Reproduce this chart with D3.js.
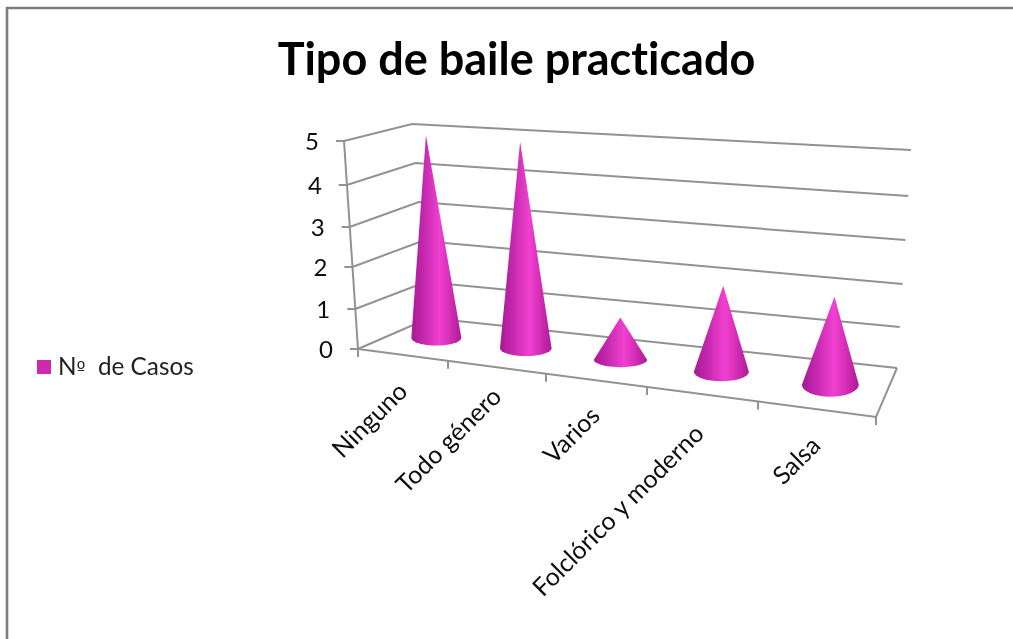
<!DOCTYPE html>
<html><head><meta charset="utf-8">
<script src="https://cdn.jsdelivr.net/npm/d3@7"></script>
<style>html,body{margin:0;padding:0;background:#fff}svg{display:block}text{font-family:Lato,Carlito,sans-serif;font-variant-ligatures:none}</style>
</head><body><div id="c"></div>
<script>
const title = "Tipo de baile practicado";
const seriesNamePrefix = "N";
const seriesOrdinal = "º";
const seriesNameSuffix = "  de Casos";
const categories = ["Ninguno","Todo género","Varios","Folclórico y moderno","Salsa"];
const values = [5,5,1,2,2];
const ticks = [0,1,2,3,4,5];

const W=1013,H=639;
const svg=d3.select("#c").append("svg").attr("width",W).attr("height",H);
const defs=svg.append("defs");
const soft=defs.append("filter").attr("id","soft").attr("x","-5%").attr("y","-5%").attr("width","110%").attr("height","110%");
soft.append("feGaussianBlur").attr("stdDeviation",0.55);
const grad=defs.append("linearGradient").attr("id","cone").attr("x1",0).attr("x2",1).attr("y1",0).attr("y2",0);
[[0,"#a81a94"],[0.25,"#c428ae"],[0.56,"#f040d0"],[0.72,"#dc32bd"],[1,"#ad1c98"]].forEach(s=>grad.append("stop").attr("offset",s[0]).attr("stop-color",s[1]));

const frontY=d3.scaleLinear().domain(ticks).range([349,309,267,227,185,141]);
const frontX=d3.scaleLinear().domain([0,5]).range([358,344]);
const backLY=d3.scaleLinear().domain(ticks).range([318,282,241,202,163,124]);
const backLX=d3.scaleLinear().domain([0,5]).range([429,412]);
const backRY=d3.scaleLinear().domain(ticks).range([368,327,284,240,196,150]);
const backRX=d3.scaleLinear().domain([0,5]).range([897,911]);
const catX=d3.scaleLinear().domain([0,1,2,3,4,5]).range([358,448,546,647,758,876]);
const floorFrontY=d3.scaleLinear().domain([358,876]).range([349,417]);
const frac=d3.scaleLinear().domain([358,876]).range([0,1]);
const floorBackX=d3.scaleLinear().domain([0,1]).range([429,897]);
const floorBackY=d3.scaleLinear().domain([429,897]).range([318,368]);
const lean=d3.scaleLinear().domain([358,897]).range([-2.9,2.77]);
const unit=d3.scaleLinear().domain([358,897]).range([39.8,44.6]);
const rxS=d3.scaleLinear().domain([435,832]).range([25,28.5]);
const ryS=d3.scaleLinear().domain([435,625,725,832]).range([8,7.5,9.5,12]);

const g=svg.append("g").attr("filter","url(#soft)");
g.append("path").attr("d",`M7,${H}V8H${W}`).attr("fill","none").attr("stroke","#7e7e7e").attr("stroke-width",2.6);

const grid=g.append("g").attr("fill","none").attr("stroke","#929292").attr("stroke-width",2);
ticks.forEach(v=>{
  grid.append("polyline").attr("points",[[frontX(v),frontY(v)],[backLX(v),backLY(v)],[backRX(v),backRY(v)]].join(" "));
  grid.append("line").attr("x1",frontX(v)-8).attr("x2",frontX(v)).attr("y1",frontY(v)).attr("y2",frontY(v));
});
grid.append("line").attr("x1",frontX(5)).attr("y1",frontY(5)).attr("x2",frontX(0)).attr("y2",frontY(0));
grid.append("polyline").attr("points",[[catX(0),floorFrontY(catX(0))],[catX(5),floorFrontY(catX(5))],[backRX(0),backRY(0)]].join(" "));
d3.range(0,6).forEach(i=>{
  const x=catX(i),y=floorFrontY(x);
  grid.append("line").attr("x1",x).attr("x2",x).attr("y1",y).attr("y2",y+8);
});

const yLab=g.append("g").attr("font-size",24).attr("fill","#111").attr("text-anchor","end");
ticks.forEach(v=>yLab.append("text").attr("x",frontX(v)-25).attr("y",frontY(v)+8.5).text(v));

categories.forEach((c,i)=>{
  const fx=catX(i+0.5), fy=floorFrontY(fx);
  const bx=floorBackX(frac(fx)), by=floorBackY(bx);
  const cx=(fx+bx)/2, cy=(fy+by)/2-1;
  const rx=rxS(cx), ry=ryS(cx);
  const tx=cx+lean(cx)*values[i], ty=cy-unit(cx)*values[i];
  g.append("path")
   .attr("d",`M${tx},${ty}L${cx-rx},${cy}A${rx},${ry} 0 0 0 ${cx+rx},${cy}Z`)
   .attr("fill","url(#cone)");
});

const labels=g.append("g").attr("font-size",25).attr("fill","#111").attr("text-anchor","end");
categories.forEach((c,i)=>{
  const x=catX(i+0.5)+[6,6,5,3,5][i], y=floorFrontY(catX(i+0.5))+[38,31,37,41,38][i];
  labels.append("text").attr("transform",`translate(${x},${y}) rotate(-45)`).text(c);
});

g.append("text").attr("x",516.5).attr("y",75).attr("text-anchor","middle").attr("font-size",45).attr("font-weight",700).attr("fill","#000").text(title);

g.append("rect").attr("x",37).attr("y",360).attr("width",14).attr("height",14).attr("fill","#cd2bb0");
const leg=g.append("text").attr("x",58).attr("y",375).attr("font-size",24.3).attr("fill","#222").style("white-space","pre");
leg.append("tspan").text(seriesNamePrefix);
leg.append("tspan").style("font-family","'DejaVu Sans'").attr("font-size",19).text(seriesOrdinal);
leg.append("tspan").text(seriesNameSuffix);
</script></body></html>
